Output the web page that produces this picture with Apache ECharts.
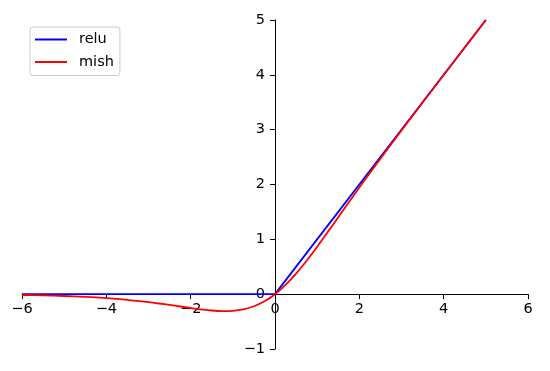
<!DOCTYPE html>
<html><head><meta charset="utf-8">
<script src="https://cdn.jsdelivr.net/npm/echarts@6/dist/echarts.min.js"></script>
<style>html,body{margin:0;padding:0;background:#fff}#c{width:550px;height:371px}</style>
</head><body><div id="c"></div>
<script>
const seriesNames = ['relu', 'mish'];
const reluX = [-6, 0, 5];
const reluY = [0, 0, 5];
const mishX = [-6, -5.5, -5, -4.5, -4, -3.5, -3, -2.75, -2.5, -2.25, -2, -1.75, -1.5, -1.25, -1, -0.75, -0.5, -0.25, 0, 0.25, 0.5, 0.75, 1, 1.25, 1.5, 1.75, 2, 2.5, 3, 3.5, 4, 4.5, 5];
const mishY = [-0.0149, -0.0224, -0.0336, -0.0497, -0.0726, -0.1041, -0.1457, -0.1702, -0.1968, -0.2248, -0.2525, -0.2780, -0.2981, -0.3084, -0.3034, -0.2765, -0.2207, -0.1300, 0, 0.1696, 0.3752, 0.6100, 0.8651, 1.1319, 1.4034, 1.6749, 1.9440, 2.4714, 2.9865, 3.4940, 3.9974, 4.4989, 4.9996];
const xTicks = [-6, 6, 2];
const yTicks = [-1, 5, 1];

const fmt = v => (v < 0 ? '\u2212' + Math.abs(v) : String(v));
const font = 'DejaVu Sans';
const fs = 14.5;
const W = 550, H = 371;
const gl = 22, gr = 22, gt = 20, gb = 22;
const gw = W - gl - gr, gh = H - gt - gb;
// place spines at zero (matplotlib 'zero' spines)
const yOffset = -gw * (0 - xTicks[0]) / (xTicks[1] - xTicks[0]);
const xOffset = -gh * (0 - yTicks[0]) / (yTicks[1] - yTicks[0]);

const chart = echarts.init(document.getElementById('c'), null, {renderer: 'canvas'});
chart.setOption({
  animation: false,
  textStyle: {fontFamily: font},
  grid: {left: gl, right: gr, top: gt, bottom: gb, containLabel: false, outerBoundsMode: 'none'},
  legend: {
    orient: 'vertical', left: 30, top: 27,
    padding: [4, 6, 5, 5], itemGap: 5.5,
    borderColor: '#cccccc', borderWidth: 1, borderRadius: 3,
    icon: 'rect', itemWidth: 32, itemHeight: 2,
    textStyle: {fontFamily: font, fontSize: fs, lineHeight: 17, color: '#000', padding: [0, 0, 0, 7]},
    data: seriesNames
  },
  xAxis: {
    type: 'value', min: xTicks[0], max: xTicks[1], interval: xTicks[2],
    position: 'bottom', offset: xOffset,
    axisLine: {onZero: false, lineStyle: {color: '#000', width: 1}},
    axisTick: {show: true, inside: false, length: 5, lineStyle: {color: '#000'}},
    axisLabel: {formatter: fmt, color: '#000', fontSize: fs, fontFamily: font, margin: 8},
    splitLine: {show: false}
  },
  yAxis: {
    type: 'value', min: yTicks[0], max: yTicks[1], interval: yTicks[2],
    position: 'left', offset: yOffset,
    axisLine: {show: true, onZero: false, lineStyle: {color: '#000', width: 1}},
    axisTick: {show: true, inside: false, length: 5, lineStyle: {color: '#000'}},
    axisLabel: {formatter: fmt, color: '#000', fontSize: fs, fontFamily: font, margin: 10},
    splitLine: {show: false}
  },
  series: [
    {name: seriesNames[0], type: 'line', showSymbol: false, symbol: 'none',
     data: reluX.map((x, i) => [x, reluY[i]]),
     lineStyle: {color: '#0000ff', width: 1.8}, itemStyle: {color: '#0000ff'}},
    {name: seriesNames[1], type: 'line', showSymbol: false, symbol: 'none', smooth: 0.3,
     data: mishX.map((x, i) => [x, mishY[i]]),
     lineStyle: {color: '#ff0000', width: 1.8}, itemStyle: {color: '#ff0000'}}
  ]
});
</script></body></html>
